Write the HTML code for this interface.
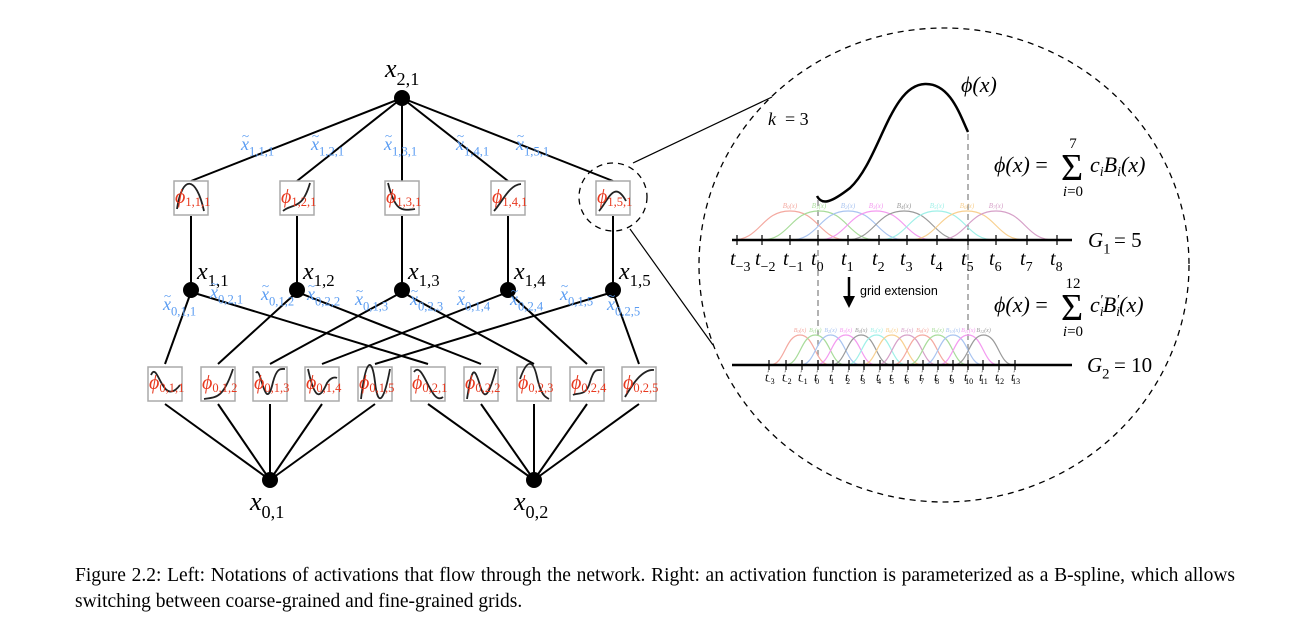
<!DOCTYPE html>
<html><head><meta charset="utf-8"><style>
html,body{margin:0;padding:0;background:#fff;width:1312px;height:631px;overflow:hidden}
svg{display:block}
.m{font-family:"Liberation Serif",serif;font-style:italic}
.s{font-style:normal}
.cap{position:absolute;left:75px;top:563px;width:1160px;font-family:"Liberation Serif",serif;font-size:19.5px;line-height:26px;text-align:justify;text-align-last:left;color:#000}
</style></head><body>
<svg id="g" width="1312" height="631" xmlns="http://www.w3.org/2000/svg"></svg>
<div class="cap">Figure 2.2: Left: Notations of activations that flow through the network. Right: an activation function is parameterized as a B-spline, which allows switching between coarse-grained and fine-grained grids.</div>
<script>
(function(){
var s='';
function L(a,b,c,d,w,st){s+='<line x1="'+a+'" y1="'+b+'" x2="'+c+'" y2="'+d+'" stroke="'+(st||'#000')+'" stroke-width="'+(w||2)+'"/>';}
function T(x,y,main,sub,size,col){size=size||22;col=col||'#000';
 s+='<text class="m" x="'+x+'" y="'+y+'" font-size="'+size+'" fill="'+col+'">'+main+(sub?'<tspan class="s" dy="'+size*0.3+'" font-size="'+size*0.7+'">'+sub+'</tspan>':'')+'</text>';}
function XT(x,y,sub,col){T(x,y,'x',sub,18,col);s+='<text x="'+(x+1)+'" y="'+(y-10)+'" font-family="Liberation Serif" font-size="13" fill="'+col+'">~</text>';}
function C(x,y,r){s+='<circle cx="'+x+'" cy="'+y+'" r="'+(r||8)+'" fill="#000"/>';}
var tp=[191,297,402,508,613], bot=[165,218,270,322,375,428,481,534,587,639];
tp.forEach(function(x){L(402,98,x,181);L(x,216,x,290);});
tp.forEach(function(x,j){L(x,292,bot[j],364);L(x,292,bot[j+5],364);});
bot.forEach(function(x,i){L(x,404,i<5?270:534,480);});
var curves=[
'M3 28 C8 -6 22 -6 30 30','M3 30 C12 22 22 30 30 2','M3 2 C10 30 16 30 30 28','M3 30 C12 20 18 4 30 3','M3 30 C12 20 18 -2 30 20',
'M3 8 C10 -8 14 42 32 18','M3 32 C15 30 22 32 32 2','M3 6 C8 -3 12 50 20 15 C24 0 28 2 32 2','M3 2 C10 34 15 32 22 16 C26 10 30 10 32 11','M3 32 C8 -10 14 -10 17 15 C20 42 26 34 32 2',
'M3 5 C12 -8 20 40 32 30','M3 32 C8 0 10 0 15 15 C20 34 24 32 32 2','M3 12 C10 -8 16 -8 20 10 C24 28 28 30 32 32','M3 28 C8 25 16 30 20 15 C24 2 26 3 32 3','M3 30 C10 18 20 2 32 3'];
function box(cx,cy,cv,lab){var x=cx-17,y=cy-17;s+='<rect x="'+x+'" y="'+y+'" width="34" height="34" fill="#fff" stroke="#aaa" stroke-width="1.5"/>';
 s+='<path d="'+cv+'" transform="translate('+x+','+y+')" fill="none" stroke="#222" stroke-width="1.8"/>';
 s+='<text class="m" x="'+(x+1)+'" y="'+(cy+5)+'" font-size="20" fill="#e8391f">ϕ<tspan class="s" dy="3" font-size="12.5">'+lab+'</tspan></text>';}
tp.forEach(function(x,j){box(x,198,curves[j],'1,'+(j+1)+',1');});
bot.forEach(function(x,i){box(x,384,curves[5+i],'0,'+(i<5?1:2)+','+(i%5+1));});
C(402,98);tp.forEach(function(x){C(x,290);});C(270,480);C(534,480);
T(385,77,'x','2,1',26);
tp.forEach(function(x,j){T(x+6,279,'x','1,'+(j+1),24);});
T(250,510,'x','0,1',26);T(514,510,'x','0,2',26);
var B='#5a9cf2';
[[241,150],[311,150],[384,150],[456,150],[516,150]].forEach(function(p,j){XT(p[0],p[1],'1,'+(j+1)+',1',B);});
[[163,310,'0,1,1'],[210,298,'0,2,1'],[261,300,'0,1,2'],[307,300,'0,2,2'],[355,305,'0,1,3'],[410,305,'0,2,3'],[457,305,'0,1,4'],[510,305,'0,2,4'],[560,300,'0,1,5'],[607,310,'0,2,5']].forEach(function(p){XT(p[0],p[1],p[2],B);});
s+='<circle cx="613" cy="197" r="34" fill="none" stroke="#000" stroke-width="1.3" stroke-dasharray="6,5"/>';
L(633,163,772,97,1.2);L(630,229,713,345,1.2);
s+='<ellipse cx="944" cy="265" rx="245" ry="237" fill="none" stroke="#000" stroke-width="1.3" stroke-dasharray="6,5"/>';
T(768,125,'k','',18);s+='<text x="785" y="125" font-family="Liberation Serif" font-size="18">= 3</text>';
s+='<path d="M817 196 C822 206 832 202 850 188 C880 160 890 85 925 84 C950 83 960 115 968 132" fill="none" stroke="#000" stroke-width="2.5"/>';
s+='<text class="m" x="961" y="92" font-size="22">ϕ(x)</text>';
s+='<line x1="818" y1="200" x2="818" y2="368" stroke="#888" stroke-width="1.3" stroke-dasharray="6,4"/>';
s+='<line x1="968" y1="134" x2="968" y2="368" stroke="#888" stroke-width="1.3" stroke-dasharray="6,4"/>';
function F(y,top,prime){s+='<text class="m" x="994" y="'+y+'" font-size="22">ϕ(x) <tspan class="s">=</tspan></text><text x="1061" y="'+(y+8)+'" font-family="Liberation Serif" font-size="38">Σ</text><text x="1073" y="'+(y-24)+'" font-family="Liberation Serif" font-size="15" text-anchor="middle">'+top+'</text><text x="1073" y="'+(y+24)+'" font-family="Liberation Serif" font-size="15" font-style="italic" text-anchor="middle">i<tspan font-style="normal">=0</tspan></text><text class="m" x="1090" y="'+y+'" font-size="22">c<tspan font-size="14" dy="4">i</tspan>'+(prime?'<tspan font-size="14" dx="-4" dy="-12">′</tspan><tspan dy="8">B</tspan>':'<tspan dy="-4">B</tspan>')+'<tspan font-size="14" dy="4">i</tspan>'+(prime?'<tspan font-size="14" dx="-4" dy="-12">′</tspan><tspan dy="8">(x)</tspan>':'<tspan dy="-4">(x)</tspan>')+'</text>';}
F(172,'7',false);F(312,'12',true);
var cols=['#f4a9a0','#a8dc9a','#a9c4f0','#f49af0','#9a9a9a','#9ff0e8','#f8d090','#d6a0c8','#f4a9a0','#a8dc9a','#a9c4f0','#f49af0','#9a9a9a'];
function bump(c,w,pk,bs,col,lab,fs){s+='<path d="M'+(c-w)+' '+bs+' C'+(c-w/2)+' '+bs+' '+(c-w/2)+' '+pk+' '+c+' '+pk+' S'+(c+w/2)+' '+bs+' '+(c+w)+' '+bs+'" fill="none" stroke="'+col+'" stroke-width="1.2"/>';
 s+='<text class="m" x="'+c+'" y="'+(pk-3)+'" font-size="'+fs+'" fill="'+col+'" text-anchor="middle">B<tspan font-size="'+(fs*0.7)+'" dy="1">'+lab+'</tspan><tspan dy="-1">(x)</tspan></text>';}
[790,819,848,876,904,937,967,996].forEach(function(c,i){bump(c,58,211,240,cols[i],i,7);});
for(var i=0;i<13;i++)bump(800+15.3*i,30,335,365,cols[i],i,6);
L(732,240,1072,240,2.5);L(732,365,1072,365,2.5);
var t1=[737,762,790,818,848,879,907,937,968,996,1027,1057];
t1.forEach(function(x,i){L(x,235,x,245,1.2);T(x-7,265,'t',String(i-3).replace('-','−'),20);});
var t2=[769,786,802,818,833,849,864,880,893,908,923,938,953,968,983,999,1015];
t2.forEach(function(x,i){L(x,360,x,370,1.2);s+='<text class="m" x="'+(x-4)+'" y="381" font-size="12">t<tspan class="s" font-size="8" dx="-1" dy="-5">′</tspan><tspan class="s" font-size="8" dx="-3" dy="8">'+String(i-3).replace('-','−')+'</tspan></text>';});
T(1088,247,'G','1',21);s+='<text x="1114" y="247" font-family="Liberation Serif" font-size="21">= 5</text>';
T(1087,372,'G','2',21);s+='<text x="1114" y="372" font-family="Liberation Serif" font-size="21">= 10</text>';
L(849,277,849,298,2.5);s+='<path d="M843 296 L855 296 L849 308 Z"/>';
s+='<text x="860" y="295" font-family="Liberation Sans" font-size="12.5">grid extension</text>';
document.getElementById('g').innerHTML=s;
})();
</script>
</body></html>
